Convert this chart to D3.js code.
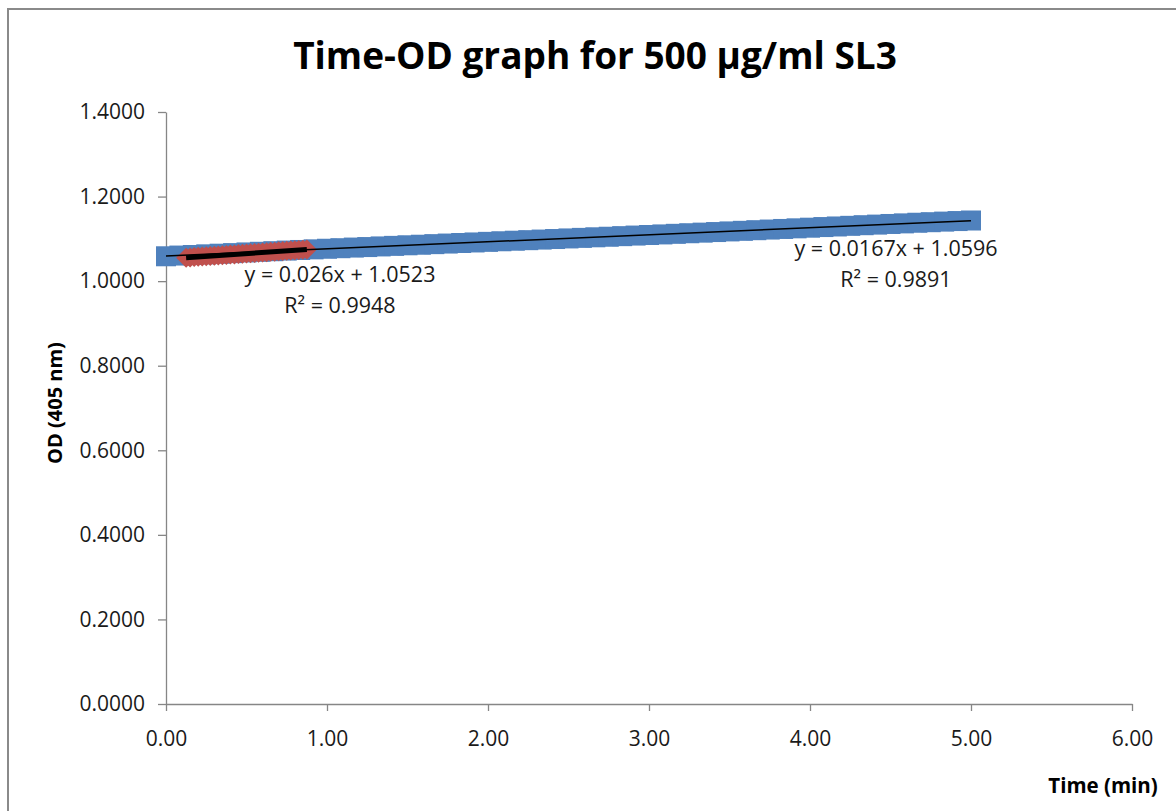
<!DOCTYPE html>
<html>
<head>
<meta charset="utf-8">
<script src="https://cdn.jsdelivr.net/npm/d3@7"></script>
<style>
    body { margin: 0; background: #fff; }
    text { font-family: "Open Sans", "Liberation Sans", sans-serif; }
</style>
</head>
<body>
<div id="chart"></div>
<script>
// series 1 (blue squares), time in min
const timeBlue = [0, 0.0833, 0.1667, 0.25, 0.3333, 0.4167, 0.5, 0.5833, 0.6667, 0.75, 0.8333, 0.9167,
    1, 1.0833, 1.1667, 1.25, 1.3333, 1.4167, 1.5, 1.5833, 1.6667, 1.75, 1.8333, 1.9167,
    2, 2.0833, 2.1667, 2.25, 2.3333, 2.4167, 2.5, 2.5833, 2.6667, 2.75, 2.8333, 2.9167,
    3, 3.0833, 3.1667, 3.25, 3.3333, 3.4167, 3.5, 3.5833, 3.6667, 3.75, 3.8333, 3.9167,
    4, 4.0833, 4.1667, 4.25, 4.3333, 4.4167, 4.5, 4.5833, 4.6667, 4.75, 4.8333, 4.9167, 5]
const odBlue = [1.0588, 1.0605, 1.0618, 1.0634, 1.0649, 1.0663, 1.0679, 1.0694, 1.0708, 1.0723, 1.0737, 1.0752,
    1.0766, 1.0779, 1.0794, 1.0806, 1.0821, 1.0834, 1.0848, 1.0861, 1.0875, 1.0889, 1.0902, 1.0915,
    1.0929, 1.0943, 1.0956, 1.0969, 1.0983, 1.0996, 1.1010, 1.1023, 1.1037, 1.1050, 1.1064, 1.1078,
    1.1091, 1.1105, 1.1119, 1.1133, 1.1147, 1.1161, 1.1176, 1.1190, 1.1205, 1.1220, 1.1234, 1.1249,
    1.1264, 1.1279, 1.1293, 1.1308, 1.1323, 1.1337, 1.1352, 1.1366, 1.1381, 1.1394, 1.1408, 1.1421, 1.1434]

// series 2 (red diamonds)
const timeRed = [0.125, 0.15, 0.175, 0.2, 0.225, 0.25, 0.275, 0.3, 0.325, 0.35, 0.375, 0.4, 0.425, 0.45, 0.475, 0.5,
    0.525, 0.55, 0.575, 0.6, 0.625, 0.65, 0.675, 0.7, 0.725, 0.75, 0.775, 0.8, 0.825, 0.85, 0.875]
const odRed = [1.0553, 1.0560, 1.0570, 1.0576, 1.0580, 1.0587, 1.0596, 1.0600, 1.0609, 1.0615, 1.0619, 1.0628,
    1.0632, 1.0641, 1.0645, 1.0654, 1.0658, 1.0667, 1.0671, 1.0680, 1.0684, 1.0693, 1.0697, 1.0706,
    1.0710, 1.0719, 1.0723, 1.0731, 1.0736, 1.0743, 1.0748]

// linear trendlines: [slope, intercept]
const trendBlue = [0.0167, 1.0596]
const trendRed = [0.026, 1.0523]
const trendLabels = [["y = 0.0167x + 1.0596", "R² = 0.9891"], ["y = 0.026x + 1.0523", "R² = 0.9948"]]

const xTicks = [0, 1, 2, 3, 4, 5, 6]
const yTicks = [0, 0.2, 0.4, 0.6, 0.8, 1.0, 1.2, 1.4]

const SVGWIDTH = 1176, SVGHEIGHT = 811
const axisColor = "#868686"

let svg = d3.select("#chart").append("svg")
    .attr("width", SVGWIDTH).attr("height", SVGHEIGHT)
    .style("background-color", "#fff")

// chart frame
svg.append("rect")
    .attr("x", 8).attr("y", 9)
    .attr("width", 1200).attr("height", 820)
    .attr("fill", "none").attr("stroke", "#8a8a8a").attr("stroke-width", 2)

let x = d3.scaleLinear().domain([0, 6]).range([166, 1132])
let y = d3.scaleLinear().domain([0, 1.4]).range([704, 112])

// axes
let xAxis = svg.append("g")
    .attr("transform", "translate(0," + y(0) + ")")
    .call(d3.axisBottom(x).tickValues(xTicks).tickFormat(d3.format(".2f"))
        .tickSize(7).tickSizeOuter(0).tickPadding(20))
let yAxis = svg.append("g")
    .attr("transform", "translate(" + x(0) + ",0)")
    .call(d3.axisLeft(y).tickValues(yTicks).tickFormat(d3.format(".4f"))
        .tickSize(8).tickSizeOuter(0).tickPadding(13))

for (let ax of [xAxis, yAxis]) {
    ax.select(".domain").attr("stroke", axisColor).attr("stroke-width", 1.3)
    ax.selectAll(".tick line").attr("stroke", axisColor).attr("stroke-width", 1.3)
    ax.selectAll(".tick text").attr("fill", "#1a1a1a")
        .style("font-family", "'Open Sans', sans-serif").style("font-size", "21px")
}

// blue squares
let blueData = timeBlue.map((t, i) => [t, odBlue[i]])
svg.append("g").selectAll("rect")
    .data(blueData).enter()
    .append("rect")
    .attr("x", d => x(d[0]) - 10)
    .attr("y", d => y(d[1]) - 10)
    .attr("width", 20).attr("height", 20)
    .attr("fill", "#4f81bd")

// red diamonds
let redData = timeRed.map((t, i) => [t, odRed[i]])
const diamond = d3.symbol().type(d3.symbolSquare).size(200)
svg.append("g").selectAll("path")
    .data(redData).enter()
    .append("path")
    .attr("d", diamond)
    .attr("transform", d => "translate(" + x(d[0]) + "," + y(d[1]) + ") rotate(45)")
    .attr("fill", "#c0504d")

// trendlines, drawn over min..max of each series
const line = d3.line().x(d => x(d[0])).y(d => y(d[1]))
function trendPoints(ts, coef) {
    let lo = d3.min(ts), hi = d3.max(ts)
    return [[lo, coef[0] * lo + coef[1]], [hi, coef[0] * hi + coef[1]]]
}
svg.append("path")
    .attr("d", line(trendPoints(timeBlue, trendBlue)))
    .attr("stroke", "#000").attr("stroke-width", 1.5).attr("fill", "none")
svg.append("path")
    .attr("d", line(trendPoints(timeRed, trendRed)))
    .attr("stroke", "#000").attr("stroke-width", 5).attr("fill", "none")

// trendline labels
let labelPos = [[896, 256], [340, 282]]
for (let i = 0; i < trendLabels.length; i++) {
    for (let j = 0; j < 2; j++) {
        svg.append("text")
            .attr("x", labelPos[i][0]).attr("y", labelPos[i][1] + j * 31)
            .attr("text-anchor", "middle")
            .style("font-size", "21.5px").attr("fill", "#1a1a1a")
            .text(trendLabels[i][j])
    }
}

// titles
svg.append("text")
    .attr("x", 595).attr("y", 69)
    .attr("text-anchor", "middle")
    .style("font-size", "37px").style("font-weight", "bold")
    .text("Time-OD graph for 500 µg/ml SL3")

svg.append("text")
    .attr("transform", "translate(62,403) rotate(-90)")
    .attr("text-anchor", "middle")
    .style("font-size", "20px").style("font-weight", "bold")
    .text("OD (405 nm)")

svg.append("text")
    .attr("x", 1103).attr("y", 793)
    .attr("text-anchor", "middle")
    .style("font-size", "20.5px").style("font-weight", "bold")
    .text("Time (min)")
</script>
</body>
</html>
